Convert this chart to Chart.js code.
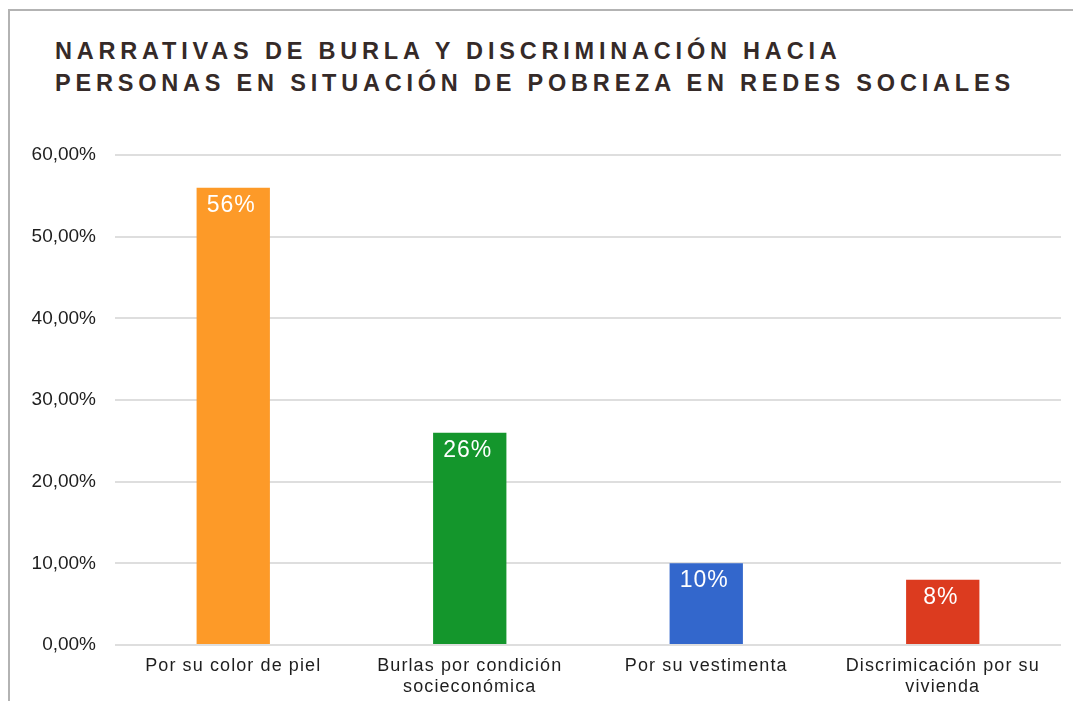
<!DOCTYPE html>
<html lang="es">
<head>
<meta charset="utf-8">
<title>Narrativas de burla y discriminación</title>
<script src="https://cdn.jsdelivr.net/npm/chart.js@4.4.1/dist/chart.umd.min.js"></script>
<style>
    html, body { margin: 0; padding: 0; background: #fff; overflow: hidden; }
    body { width: 1073px; height: 701px; position: relative; font-family: "Liberation Sans", Arial, sans-serif; }
    .frame { position: absolute; left: 8px; top: 9px; width: 1100px; height: 800px; border: 2px solid #b3b3b3; box-sizing: border-box; }
    .title {
        position: absolute; left: 55px; top: 35px; margin: 0;
        font-size: 23.5px; line-height: 32px; font-weight: bold; letter-spacing: 4.8px;
        color: #352a28; white-space: nowrap;
    }
    #chartBox { position: absolute; left: 0; top: 0; width: 1073px; height: 701px; }
</style>
</head>
<body>
<div class="frame"></div>
<h1 class="title">NARRATIVAS DE BURLA Y DISCRIMINACIÓN HACIA<br>PERSONAS EN SITUACIÓN DE POBREZA EN REDES SOCIALES</h1>
<div id="chartBox"><canvas id="barChart"></canvas></div>

<script>
const categories = [
    'Por su color de piel',
    ['Burlas por condición', 'socieconómica'],
    'Por su vestimenta',
    ['Discrimicación por su', 'vivienda']
];
const values = [56, 26, 10, 8];
const barColors = ['#fd9a28', '#14962c', '#3367cc', '#dc3b1f'];
const yTicks = [0, 10, 20, 30, 40, 50, 60];

const fontFamily = '"Liberation Sans", Arial, sans-serif';

// etiquetas blancas dentro de cada barra
const barLabels = {
    id: 'barLabels',
    afterDatasetsDraw(chart) {
        const ctx = chart.ctx;
        const meta = chart.getDatasetMeta(0);
        ctx.save();
        ctx.font = `23px ${fontFamily}`;
        ctx.fillStyle = '#ffffff';
        ctx.textAlign = 'center';
        ctx.textBaseline = 'top';
        ctx.letterSpacing = '1px';
        meta.data.forEach((bar, i) => {
            ctx.fillText(`${values[i]}%`, bar.x - 2, bar.y + 6);
        });
        ctx.restore();
    }
};

// un poco de espacio entre letras en las categorías
const spacedXLabels = {
    id: 'spacedXLabels',
    afterLayout(chart) {
        const scale = chart.scales.x;
        if (scale._spaced) return;
        const orig = scale.drawLabels;
        scale.drawLabels = function (area) {
            this.ctx.save();
            this.ctx.letterSpacing = '1.1px';
            orig.call(this, area);
            this.ctx.restore();
        };
        scale._spaced = true;
    }
};

const ctx = document.getElementById('barChart').getContext('2d');

new Chart(ctx, {
    type: 'bar',
    data: {
        labels: categories,
        datasets: [{
            data: values,
            backgroundColor: barColors,
            borderWidth: 0,
            barPercentage: 0.62,
            categoryPercentage: 0.5
        }]
    },
    options: {
        responsive: true,
        maintainAspectRatio: false,
        animation: false,
        layout: { padding: { top: 155, right: 12, bottom: 0, left: 0 } },
        plugins: {
            legend: { display: false },
            title: { display: false },
            tooltip: { enabled: false }
        },
        scales: {
            x: {
                grid: { display: false, drawTicks: false },
                border: { display: false },
                ticks: {
                    color: '#1e1e1e',
                    padding: 10,
                    maxRotation: 0,
                    autoSkip: false,
                    font: { family: fontFamily, size: 18, lineHeight: 1.2 }
                },
                afterFit: (scale) => { scale.height = 56; }
            },
            y: {
                min: 0,
                max: 60,
                afterBuildTicks: (scale) => { scale.ticks = yTicks.map(v => ({ value: v })); },
                grid: { color: '#dedede', lineWidth: 2, drawTicks: false },
                border: { display: false },
                ticks: {
                    color: '#1e1e1e',
                    padding: 19,
                    font: { family: fontFamily, size: 19 },
                    callback: (v) => v.toFixed(2).replace('.', ',') + '%'
                },
                afterFit: (scale) => { scale.width = 115; }
            }
        }
    },
    plugins: [barLabels, spacedXLabels]
});
</script>
</body>
</html>
